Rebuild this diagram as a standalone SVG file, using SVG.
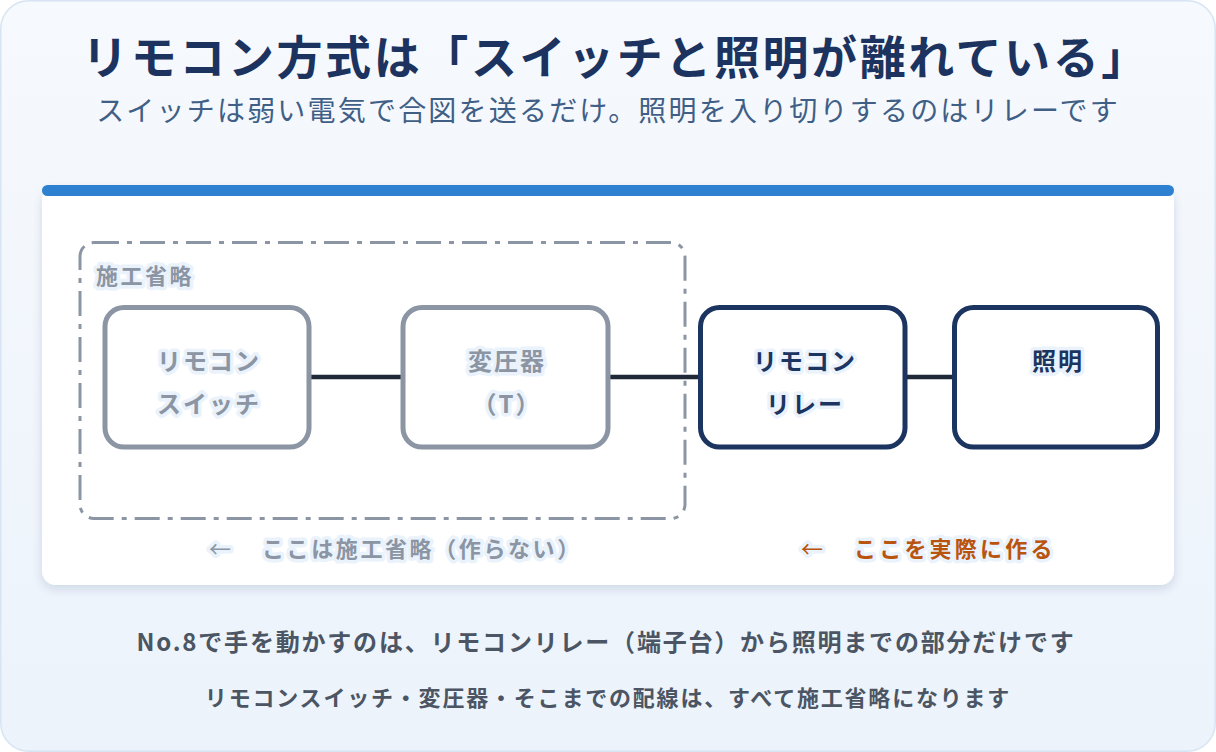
<svg xmlns="http://www.w3.org/2000/svg" width="1216" height="752" viewBox="0 0 1216 752">
<defs>
<linearGradient id="bg" x1="0" y1="0" x2="0" y2="1">
<stop offset="0" stop-color="#f6f9fd"/>
<stop offset="1" stop-color="#ecf3fb"/>
</linearGradient>
<filter id="sh" x="-5%" y="-10%" width="110%" height="125%">
<feDropShadow dx="0" dy="4" stdDeviation="5" flood-color="#1b335e" flood-opacity="0.14"/>
</filter>
<style>
text{font-family:"Noto Sans CJK JP","Noto Sans",sans-serif;text-anchor:middle}
.title{font-size:46px;font-weight:700;fill:#1b335e;letter-spacing:2.6px}
.sub{font-size:28px;font-weight:400;fill:#3f5f86;letter-spacing:2.2px}
.halo{paint-order:stroke;stroke:#eaf2fc;stroke-width:7px;stroke-linejoin:round}
.lbl{font-size:22px;font-weight:700;letter-spacing:2.5px}
.nlbl{font-size:24px;font-weight:700;letter-spacing:2px}
.gray{fill:#8b95a3}
.navy{fill:#1b3560}
.orange{fill:#b9540f}
.gnode{fill:#ffffff;stroke:#8b95a3;stroke-width:5}
.nnode{fill:#ffffff;stroke:#1b3560;stroke-width:5}
.wire{stroke:#1f2937;stroke-width:4.5;stroke-linecap:round;fill:none}
.note1{font-size:24px;font-weight:700;fill:#4b5563;letter-spacing:1.8px}
.note2{font-size:22px;font-weight:700;fill:#4b5563;letter-spacing:1.8px}
</style>
</defs>
<rect x="0.75" y="0.75" width="1214.5" height="750.5" rx="28" fill="url(#bg)" stroke="#d6e4f3" stroke-width="1.5"/>
<text class="title" x="616" y="74">リモコン方式は「スイッチと照明が離れている」</text>
<text class="sub" x="608" y="121">スイッチは弱い電気で合図を送るだけ。照明を入り切りするのはリレーです</text>
<g id="card">
<rect x="42" y="186" width="1132" height="399" rx="14" fill="#ffffff" filter="url(#sh)"/>
<rect x="42" y="185" width="1132" height="11" rx="5.5" fill="#2e80d0"/>
</g>
<g id="group-omitted">
<rect x="80" y="242.5" width="605" height="276" rx="14" fill="none" stroke="#8b95a3" stroke-width="3" stroke-dasharray="25 8 5 8"/>
<text class="lbl gray halo" x="96" y="284" style="text-anchor:start">施工省略</text>
</g>
<g id="connectors">
<line class="wire" x1="309" y1="377" x2="403" y2="377"/>
<line class="wire" x1="608" y1="377" x2="700" y2="377"/>
<line class="wire" x1="905" y1="377" x2="954" y2="377"/>
</g>
<g id="node-switch">
<rect class="gnode" x="105" y="307.5" width="204" height="139.5" rx="19"/>
<text class="nlbl gray halo" x="209" y="370">リモコン</text>
<text class="nlbl gray halo" x="209" y="413">スイッチ</text>
</g>
<g id="node-transformer">
<rect class="gnode" x="403" y="307.5" width="205" height="139.5" rx="19"/>
<text class="nlbl gray halo" x="507" y="370">変圧器</text>
<text class="nlbl gray halo" x="507" y="413">（T）</text>
</g>
<g id="node-relay">
<rect class="nnode" x="700.5" y="307.5" width="204.5" height="139.5" rx="19"/>
<text class="nlbl navy halo" x="805" y="370">リモコン</text>
<text class="nlbl navy halo" x="805" y="413">リレー</text>
</g>
<g id="node-light">
<rect class="nnode" x="954.5" y="307.5" width="203" height="139.5" rx="19"/>
<text class="nlbl navy halo" x="1058" y="370">照明</text>
</g>
<g id="captions">
<text class="gray halo" x="220" y="557" style="font-size:22px;font-weight:400">←</text>
<text class="lbl gray halo" x="262" y="557" style="text-anchor:start;letter-spacing:2.6px">ここは施工省略（作らない）</text>
<text class="orange halo" x="812" y="557" style="font-size:22px;font-weight:400">←</text>
<text class="lbl orange halo" x="854" y="557" style="text-anchor:start;letter-spacing:3.2px">ここを実際に作る</text>
</g>
<text class="note1" x="606" y="651">No.8で手を動かすのは、リモコンリレー（端子台）から照明までの部分だけです</text>
<text class="note2" x="608" y="706">リモコンスイッチ・変圧器・そこまでの配線は、すべて施工省略になります</text>
</svg>
